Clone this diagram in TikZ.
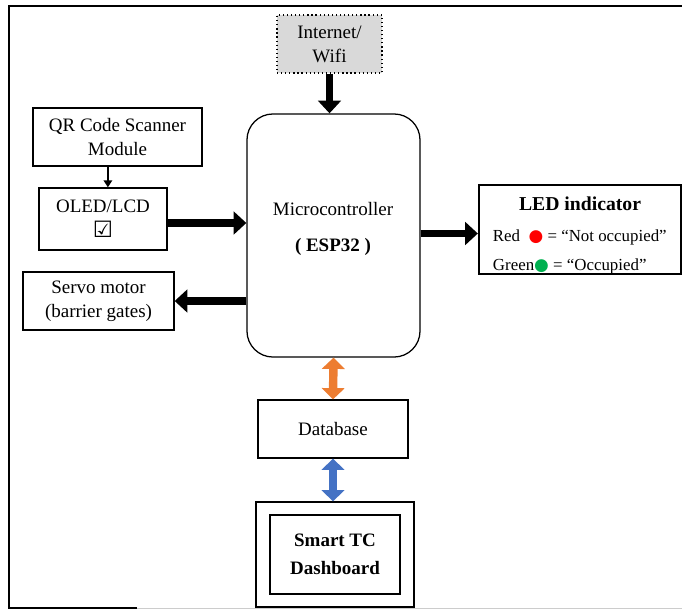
\documentclass[tikz,border=0pt]{standalone}
\usepackage{fontspec}
\setmainfont{Liberation Serif}
\newfontfamily\symfont{DejaVu Sans}
\usetikzlibrary{arrows.meta,calc}
\definecolor{inetgray}{HTML}{D9D9D9}
\definecolor{dborange}{HTML}{ED7D31}
\definecolor{dashblue}{HTML}{4472C4}
\definecolor{ledgreen}{HTML}{00B050}

\begin{document}
\begin{tikzpicture}[x=0.025cm,y=-0.025cm,font=\fontsize{13.5}{17}\selectfont,
  box/.style={draw=black,line width=0.9pt,align=center,inner sep=2pt},
  bigflow/.style={-{Triangle[length=9pt,width=16pt]},line width=5.5pt},
  smallflow/.style={-{Triangle[length=5pt,width=6pt]},line width=1.2pt},
  dblflow/.style={{Triangle[length=8pt,width=16pt]}-{Triangle[length=8pt,width=16pt]},line width=6pt},
  ledline/.style={anchor=west,font=\fontsize{12}{14}\selectfont}]
\useasboundingbox (0,0) rectangle (682,612);
% outer frame
\draw[line width=0.9pt] (682,6) -- (9,6) -- (9,608) -- (137,608);
\draw[black!20,line width=0.6pt] (137,608) -- (682,608);
% blocks
\node[box,dotted,fill=inetgray,minimum width=2.625cm,minimum height=1.45cm] (inet) at (329.5,44) {Internet/\\Wifi};
\node[box,rounded corners=0.65cm,minimum width=4.325cm,minimum height=6.075cm] (mcu) at (333.5,235.5) {};
\node[align=center] (mcutxt) at (333,229) {Microcontroller\\[8pt]\textbf{( ESP32 )}};
\node[box,minimum width=4.225cm,minimum height=1.45cm] (qr) at (117.5,137) {QR Code Scanner\\Module};
\node[box,minimum width=3.2cm,minimum height=1.55cm] (oled) at (103,219) {OLED/LCD\\[1pt]{\symfont\fontsize{16}{16}\selectfont ☑}};
\node[box,minimum width=3.775cm,minimum height=1.45cm] (servo) at (98.5,301) {Servo motor\\(barrier gates)};
% led indicator
\node[box,line width=1.6pt,minimum width=5.05cm,minimum height=2.225cm] (led) at (580,229.5) {};
\node[font=\fontsize{14}{17}\selectfont\bfseries] (ledtitle) at (580,204) {LED indicator};
\node[ledline] (ledred) at (488,237) {Red\enspace{\symfont\color{red}●} = “Not occupied”};
\node[ledline] (ledgreen) at (488,266) {Green{\symfont\color{ledgreen}●} = “Occupied”};
% database and dashboard
\node[box,minimum width=3.75cm,minimum height=1.45cm] (db) at (333,429) {Database};
\node[box,minimum width=3.95cm,minimum height=2.625cm] (dash) at (335,554.5) {};
\node[box,font=\fontsize{13.5}{17}\selectfont\bfseries,minimum width=3.25cm,minimum height=1.975cm] (dashin) at (dash.center) {Smart TC\\[3pt]Dashboard};
% arrows
\coordinate (qrout) at ([xshift=-0.24cm]qr.south);
\coordinate (oledout) at ([yshift=-0.1cm]oled.east);
\coordinate (ledin) at ([yshift=-0.1cm]led.west);
\draw[bigflow] (inet.south) -- (inet.south |- mcu.north);
\draw[smallflow] (qrout) -- (qrout |- oled.north);
\draw[bigflow] (oledout) -- (oledout -| mcu.west);
\draw[bigflow] (servo.east -| mcu.west) -- (servo.east);
\draw[bigflow] (ledin -| mcu.east) -- (ledin);
\draw[dblflow,dborange] (mcu.south) -- (db.north);
\draw[dblflow,dashblue] (db.south) -- (db.south |- dash.north);
\end{tikzpicture}
\end{document}
